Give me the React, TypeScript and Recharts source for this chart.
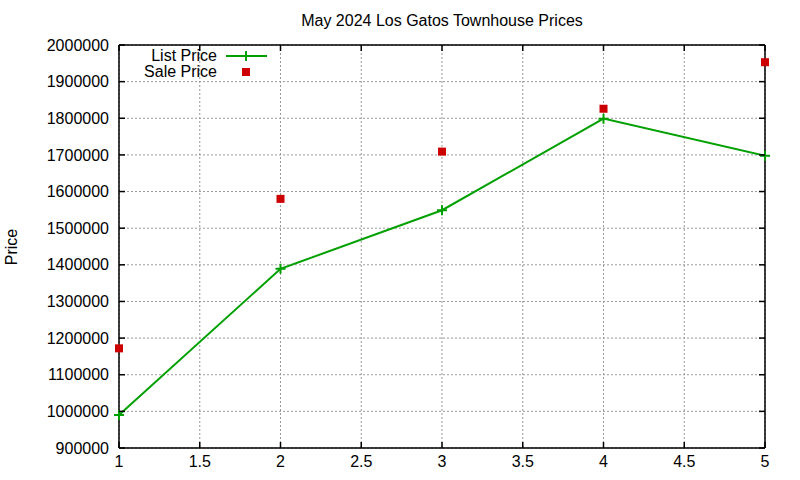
import React from "react";
import {
  ComposedChart,
  Line,
  XAxis,
  YAxis,
  CartesianGrid,
} from "recharts";

const months = [1, 2, 3, 4, 5];
const listPrice = [990000, 1389000, 1549000, 1799000, 1698000];
const salePrice = [1172000, 1580000, 1709000, 1826000, 1953000];
const xTicks = [1, 1.5, 2, 2.5, 3, 3.5, 4, 4.5, 5];
const yTicks = [
  900000, 1000000, 1100000, 1200000, 1300000, 1400000, 1500000, 1600000,
  1700000, 1800000, 1900000, 2000000,
];

const GREEN = "#00a000";
const RED = "#cc0000";
const FONT = "'Liberation Sans', Arial, sans-serif";

// plot box edges (from margins / axis sizes below)
const LEFT = 119;
const RIGHT = 765;
const TOP = 45;
const BOTTOM = 448;
const TICK = 6;

const data = months.map((m, i) => ({
  x: m,
  list: listPrice[i],
  sale: salePrice[i],
}));

const PlusDot = (props: any) => {
  const { cx, cy } = props;
  if (cx == null || cy == null) return null;
  return (
    <path
      d={`M${cx - 5},${cy}H${cx + 5}M${cx},${cy - 5}V${cy + 5}`}
      stroke={GREEN}
      strokeWidth={2}
      fill="none"
    />
  );
};

const SquareDot = (props: any) => {
  const { cx, cy } = props;
  if (cx == null || cy == null) return null;
  return <rect x={cx - 4} y={cy - 4} width={8} height={8} fill={RED} />;
};

// gnuplot style: ticks point inward, mirrored on opposite side
const XTick = (props: any) => {
  const { payload } = props;
  const c = payload.coordinate;
  return (
    <g>
      <line x1={c} x2={c} y1={BOTTOM} y2={BOTTOM - TICK} stroke="#000" strokeWidth={1.5} />
      <line x1={c} x2={c} y1={TOP} y2={TOP + TICK} stroke="#000" strokeWidth={1.5} />
      <text
        x={c}
        y={BOTTOM + 19}
        textAnchor="middle"
        fontSize={16}
        fontFamily={FONT}
        fill="#000"
      >
        {String(payload.value)}
      </text>
    </g>
  );
};

const YTick = (props: any) => {
  const { payload } = props;
  const c = payload.coordinate;
  return (
    <g>
      <line x1={LEFT} x2={LEFT + TICK} y1={c} y2={c} stroke="#000" strokeWidth={1.5} />
      <line x1={RIGHT} x2={RIGHT - TICK} y1={c} y2={c} stroke="#000" strokeWidth={1.5} />
      <text
        x={LEFT - 10}
        y={c}
        dy="0.355em"
        textAnchor="end"
        fontSize={16}
        fontFamily={FONT}
        fill="#000"
      >
        {String(payload.value)}
      </text>
    </g>
  );
};

const axisLine = { stroke: "#000", strokeWidth: 1.5 };

export default function App() {
  return (
    <div
      style={{
        position: "absolute",
        left: 0,
        top: 0,
        width: 800,
        height: 480,
        background: "#fff",
        fontFamily: FONT,
      }}
    >
      <ComposedChart
        width={800}
        height={480}
        data={data}
        margin={{ top: 44, right: 34, bottom: 0, left: 0 }}
      >
        <CartesianGrid
          xAxisId="b"
          yAxisId="l"
          stroke="#999999"
          strokeDasharray="2 2"
        />
        <XAxis
          xAxisId="b"
          dataKey="x"
          type="number"
          domain={[1, 5]}
          ticks={xTicks}
          interval={0}
          height={32}
          axisLine={axisLine}
          tickLine={false}
          tick={<XTick />}
        />
        <XAxis
          xAxisId="t"
          orientation="top"
          dataKey="x"
          type="number"
          domain={[1, 5]}
          ticks={xTicks}
          height={1}
          axisLine={axisLine}
          tickLine={false}
          tick={false}
        />
        <YAxis
          yAxisId="l"
          type="number"
          domain={[900000, 2000000]}
          ticks={yTicks}
          width={119}
          axisLine={axisLine}
          tickLine={false}
          tick={<YTick />}
          interval={0}
        />
        <YAxis
          yAxisId="r"
          orientation="right"
          type="number"
          domain={[900000, 2000000]}
          ticks={yTicks}
          width={1}
          axisLine={axisLine}
          tickLine={false}
          tick={false}
          interval={0}
        />
        <Line
          xAxisId="b"
          yAxisId="l"
          dataKey="list"
          stroke={GREEN}
          strokeWidth={2}
          type="linear"
          dot={<PlusDot />}
          activeDot={false}
          isAnimationActive={false}
        />
        <Line
          xAxisId="b"
          yAxisId="l"
          dataKey="sale"
          stroke="none"
          type="linear"
          dot={<SquareDot />}
          activeDot={false}
          isAnimationActive={false}
        />
      </ComposedChart>

      {/* title */}
      <div
        style={{
          position: "absolute",
          left: 0,
          width: 884,
          top: 11,
          textAlign: "center",
          fontSize: 16,
          lineHeight: "20px",
        }}
      >
        May 2024 Los Gatos Townhouse Prices
      </div>

      {/* y axis title */}
      <div
        style={{
          position: "absolute",
          left: 12,
          top: 247,
          transform: "translate(-50%, -50%) rotate(-90deg)",
          fontSize: 16,
          lineHeight: "20px",
          whiteSpace: "nowrap",
        }}
      >
        Price
      </div>

      {/* legend */}
      <div
        style={{
          position: "absolute",
          left: 100,
          width: 117,
          top: 48,
          textAlign: "right",
          fontSize: 16,
          lineHeight: "16px",
        }}
      >
        <div>List Price</div>
        <div>Sale Price</div>
      </div>
      <svg
        style={{ position: "absolute", left: 220, top: 46 }}
        width={60}
        height={40}
      >
        <line x1={6} y1={10} x2={47} y2={10} stroke={GREEN} strokeWidth={2} />
        <path d="M26,5V15" stroke={GREEN} strokeWidth={2} />
        <rect x={22} y={22} width={8} height={8} fill={RED} />
      </svg>
    </div>
  );
}
